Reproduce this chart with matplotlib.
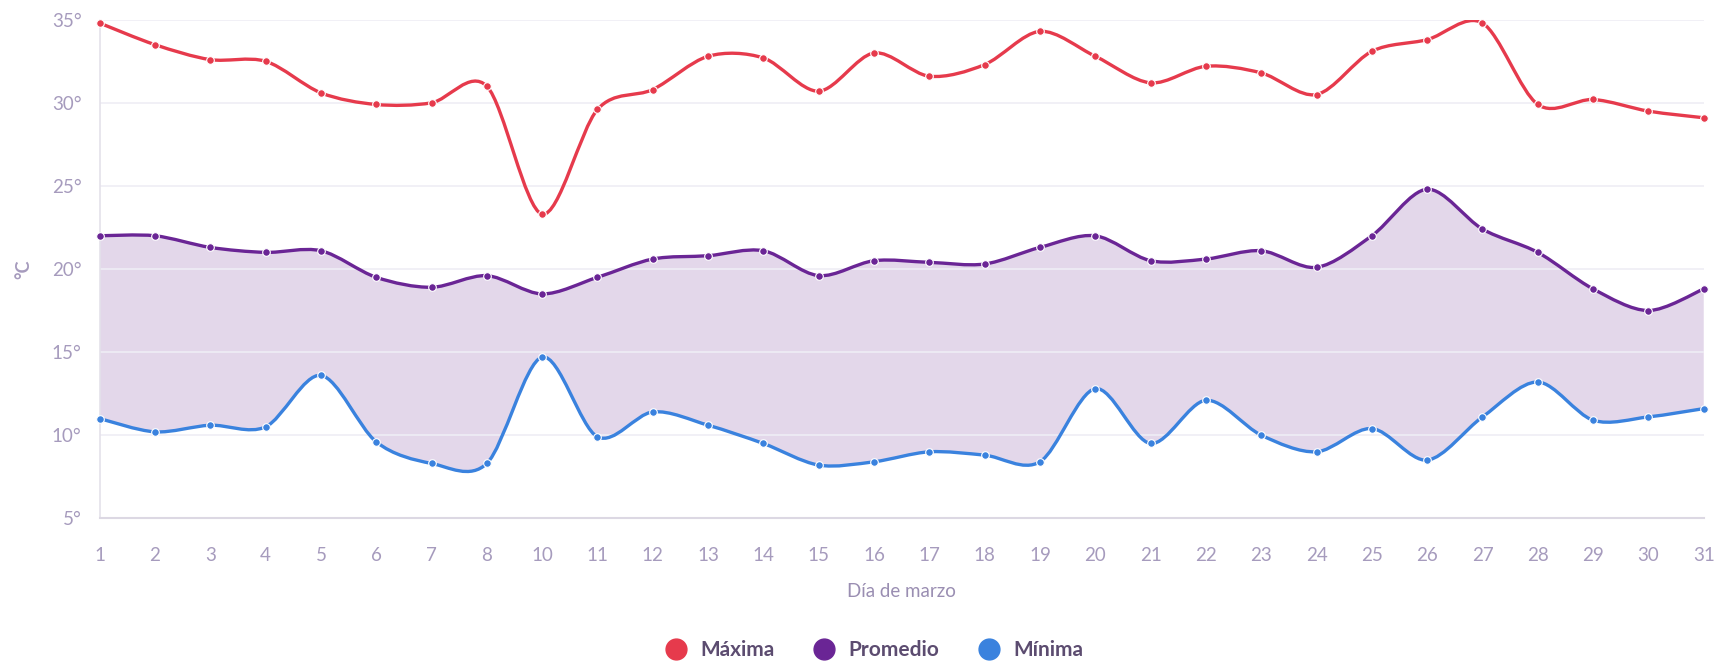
import numpy as np
import matplotlib.pyplot as plt
from matplotlib.path import Path
from matplotlib.patches import PathPatch
from matplotlib.lines import Line2D

dias = ['1', '2', '3', '4', '5', '6', '7', '8', '10', '11', '12', '13', '14', '15', '16',
        '17', '18', '19', '20', '21', '22', '23', '24', '25', '26', '27', '28', '29', '30', '31']

maxima = [34.8, 33.5, 32.6, 32.5, 30.6, 29.9, 30.0, 31.0, 23.3, 29.6, 30.8, 32.8, 32.7, 30.7, 33.0,
          31.6, 32.3, 34.3, 32.8, 31.2, 32.2, 31.8, 30.5, 33.1, 33.8, 34.8, 29.9, 30.2, 29.5, 29.1]
promedio = [22.0, 22.0, 21.3, 21.0, 21.1, 19.5, 18.9, 19.6, 18.5, 19.5, 20.6, 20.8, 21.1, 19.6, 20.5,
            20.4, 20.3, 21.3, 22.0, 20.5, 20.6, 21.1, 20.1, 22.0, 24.8, 22.4, 21.0, 18.8, 17.5, 18.8]
minima = [11.0, 10.2, 10.6, 10.5, 13.6, 9.6, 8.3, 8.3, 14.7, 9.9, 11.4, 10.6, 9.5, 8.2, 8.4,
          9.0, 8.8, 8.4, 12.8, 9.5, 12.1, 10.0, 9.0, 10.4, 8.5, 11.1, 13.2, 10.9, 11.1, 11.6]

ROJO = '#e63a4c'
MORADO = '#6a2595'
AZUL = '#3a82de'
TXT = '#a69bbd'
LEG = '#5c4c70'

plt.rcParams['font.family'] = ['Lato', 'DejaVu Sans']


def spline_verts(x, y):
    # catmull-rom style curve as cubic bezier segments
    pts = np.column_stack([x, y]).astype(float)
    n = len(pts)
    verts = [pts[0]]
    for i in range(n - 1):
        p0 = pts[i - 1] if i > 0 else pts[i]
        p1 = pts[i]
        p2 = pts[i + 1]
        p3 = pts[i + 2] if i + 2 < n else pts[i + 1]
        c1 = p1 + (p2 - p0) / 6.5
        c2 = p2 - (p3 - p1) / 6.5
        verts += [c1, c2, p2]
    return np.array(verts)


fig = plt.figure(figsize=(17.18, 6.71), dpi=100)
ax = fig.add_axes([0.058, 0.2276, 0.9337, 0.743])

x = np.arange(len(dias))

# banda entre promedio y minima
vp = spline_verts(x, promedio)
vm = spline_verts(x, minima)[::-1]
verts = np.vstack([vp, vm, vp[:1]])
codes = ([Path.MOVETO] + [Path.CURVE4] * (len(vp) - 1) +
         [Path.LINETO] + [Path.CURVE4] * (len(vm) - 1) + [Path.CLOSEPOLY])
ax.add_patch(PathPatch(Path(verts, codes), facecolor='#e3d7ea', edgecolor='none', zorder=1))

for serie, color in [(maxima, ROJO), (promedio, MORADO), (minima, AZUL)]:
    v = spline_verts(x, serie)
    c = [Path.MOVETO] + [Path.CURVE4] * (len(v) - 1)
    ax.add_patch(PathPatch(Path(v, c), facecolor='none', edgecolor=color, lw=2.4,
                           zorder=3, capstyle='round', joinstyle='round'))
    ax.plot(x, serie, 'o', color=color, ms=5.5, mec='white', mew=0.8, zorder=4, clip_on=False)

ax.set_xlim(0, len(dias) - 1)
ax.set_ylim(5, 35)
ax.set_yticks(range(5, 36, 5))
ax.set_yticklabels([f'{v}°' for v in range(5, 36, 5)])
ax.set_xticks(x)
ax.set_xticklabels(dias)

ax.grid(axis='y', color='#efedf5', lw=1.2, zorder=0)
for s in ['top', 'right']:
    ax.spines[s].set_visible(False)
ax.spines['left'].set_color('#e4e1ea')
ax.spines['bottom'].set_color('#dcd8e3')
ax.spines['left'].set_linewidth(1.2)
ax.spines['bottom'].set_linewidth(1.5)
ax.tick_params(length=0, colors=TXT, labelsize=13.5)
ax.tick_params(axis='x', pad=21)
ax.tick_params(axis='y', pad=13)

ax.set_xlabel('Día de marzo', color='#9a8eb2', fontsize=13.5, labelpad=13)
ax.set_ylabel('°C', color=TXT, fontsize=13, labelpad=14, fontweight='bold')

handles = [Line2D([], [], marker='o', ls='none', color=c, ms=15, label=l)
           for c, l in [(ROJO, 'Máxima'), (MORADO, 'Promedio'), (AZUL, 'Mínima')]]
fig.legend(handles=handles, loc='center', bbox_to_anchor=(0.506, 0.031), ncol=3, frameon=False,
           handletextpad=0.15, columnspacing=1.4, labelcolor=LEG,
           prop={'weight': 'bold', 'size': 15})

fig.savefig('out.png', dpi=100)
